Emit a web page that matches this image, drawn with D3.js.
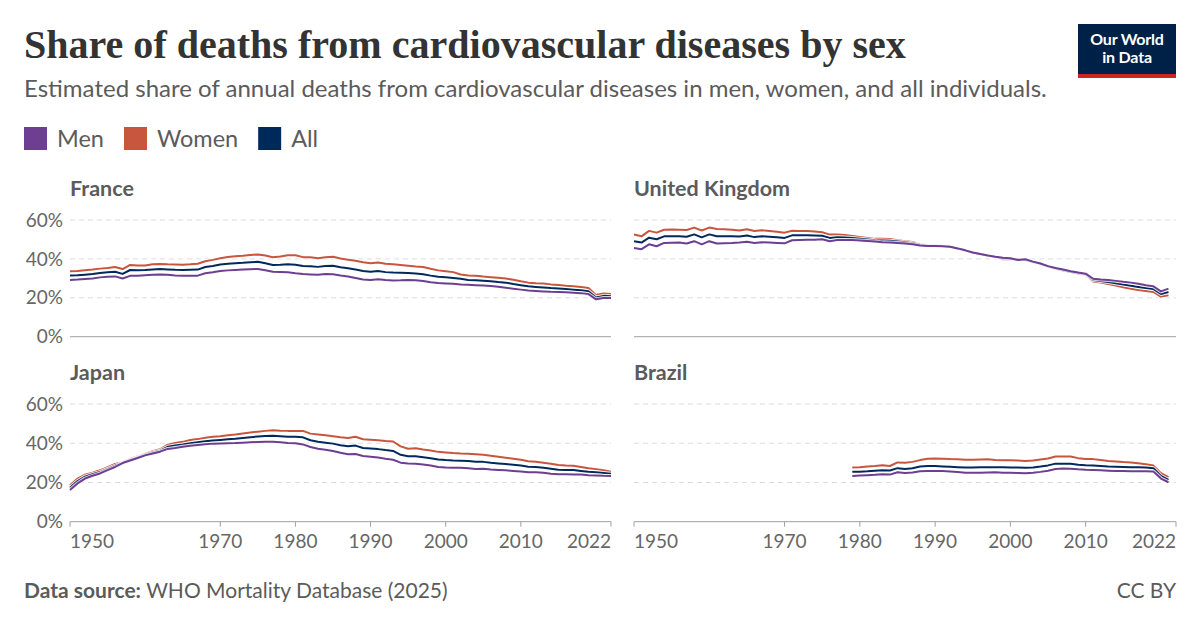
<!DOCTYPE html>
<html>
<head>
<meta charset="utf-8">
<style>
  body { margin: 0; background: #fff; }
  svg text { font-family: Lato, "Noto Sans", sans-serif; }
</style>
<script src="https://d3js.org/d3.v7.min.js"></script>
</head>
<body>
<svg id="chart" width="1200" height="627"></svg>
<script>
// ---- data (shares of deaths, %) ----
var countries = ["France", "United Kingdom", "Japan", "Brazil"];
var seriesNames = ["Men", "Women", "All"];
var seriesColors = ["#6d3e91", "#c8553d", "#00295b"];
var yTicks = [0, 20, 40, 60];
var xTicks = [1950, 1970, 1980, 1990, 2000, 2010, 2022];

var startYears = [1950, 1950, 1950, 1979];

var franceMen = [29.2,29.4,29.7,29.9,30.5,30.8,31.0,29.9,31.3,31.4,31.6,31.8,32.0,31.8,31.5,31.4,31.3,31.4,32.6,33.1,
  33.8,34.1,34.3,34.5,34.7,34.8,34.2,33.4,33.3,33.1,32.6,32.2,32.0,31.8,32.2,32.1,31.5,31.0,30.2,29.4,
  29.2,29.5,29.1,28.9,29.0,29.2,29.0,28.6,28.0,27.6,27.4,27.2,26.9,26.7,26.5,26.3,26.1,25.7,25.2,24.7,
  24.2,23.7,23.5,23.3,23.1,23.0,22.8,22.6,22.4,21.9,19.2,19.9,19.9];
var franceWomen = [33.7,33.8,34.2,34.5,35.0,35.3,35.8,34.8,36.9,36.6,36.6,37.3,37.4,37.2,37.1,37.0,37.2,37.5,38.8,39.5,
  40.3,41.0,41.4,41.6,42.0,42.3,41.7,40.9,41.2,41.9,41.9,40.9,40.8,40.3,40.8,41.1,40.2,39.6,39.0,38.3,
  37.8,38.2,37.5,37.2,36.9,36.5,36.1,35.8,34.9,34.1,33.7,33.2,32.0,31.5,31.3,30.9,30.6,30.3,29.9,29.3,
  28.5,27.8,27.5,27.3,26.9,26.6,26.2,25.9,25.6,25.0,21.4,22.2,21.9];
var franceAll = [31.5,31.6,31.9,32.2,32.8,33.1,33.4,32.3,34.3,34.2,34.3,34.6,34.8,34.6,34.4,34.3,34.4,34.5,35.8,36.4,
  37.1,37.5,37.8,38.0,38.3,38.5,37.8,36.9,37.0,37.3,37.0,36.4,36.2,35.9,36.4,36.5,35.7,35.2,34.5,33.8,
  33.4,33.8,33.2,33.0,32.9,32.8,32.5,32.1,31.4,30.8,30.6,30.2,29.8,29.2,29.0,28.8,28.5,28.1,27.8,27.1,
  26.5,25.9,25.6,25.3,25.0,24.8,24.5,24.2,23.9,23.4,20.2,21.0,20.8];

var ukMen = [45.6,45.0,47.5,46.5,48.2,48.3,48.4,47.9,49.1,47.5,49.1,47.9,48.1,48.2,48.4,48.8,48.2,48.5,48.4,48.2,
  48.0,49.6,49.7,49.8,49.9,50.1,49.1,49.7,49.7,49.7,49.5,49.2,48.9,48.5,48.4,48.2,47.9,47.5,46.9,46.6,
  46.6,46.5,46.2,45.4,44.4,43.3,42.5,41.7,41.1,40.6,40.3,39.4,39.8,38.6,37.6,36.3,35.3,34.5,33.7,33.0,
  32.4,29.8,29.4,29.1,28.7,28.2,27.8,27.2,26.4,25.9,23.3,24.7];
var ukWomen = [52.5,51.6,54.4,53.5,55.0,55.1,55.0,54.9,56.1,54.6,56.1,55.4,55.3,55.0,54.6,55.2,54.3,54.7,54.4,54.0,
  53.5,54.5,54.4,54.4,54.1,53.7,52.5,52.6,52.3,51.8,51.3,50.8,50.3,50.4,50.2,49.6,49.1,48.7,47.6,47.0,
  46.9,46.7,46.2,45.2,44.3,43.2,42.5,41.6,40.9,39.8,39.5,40.1,39.3,38.3,37.4,35.9,34.8,34.0,33.1,32.3,
  31.8,28.4,27.8,27.1,26.3,25.4,24.6,24.0,23.5,23.0,20.6,21.3];
var ukAll = [49.1,48.4,50.9,50.1,51.6,51.7,51.6,51.4,52.6,51.1,52.6,51.6,51.6,51.6,51.5,52.0,51.2,51.6,51.4,51.1,
  50.8,52.1,52.1,52.1,52.0,51.9,50.8,51.1,51.0,50.7,50.4,50.0,49.6,49.5,49.3,48.9,48.5,48.1,47.3,46.8,
  46.7,46.6,46.2,45.3,44.4,43.3,42.5,41.7,41.0,40.2,39.9,39.8,39.5,38.4,37.5,36.1,35.0,34.2,33.4,32.6,
  32.1,29.1,28.6,28.1,27.5,26.8,26.2,25.6,25.0,24.5,22.0,23.0];

var japanMen = [16.1,19.5,22.0,23.4,24.6,26.3,27.9,29.9,31.2,32.5,33.8,34.8,35.7,37.1,37.6,38.2,38.7,39.1,39.5,39.8,
  39.9,40.0,40.1,40.3,40.5,40.6,40.7,40.7,40.5,40.1,40.0,39.4,38.1,37.2,36.7,36.0,35.1,34.4,34.5,33.5,
  33.1,32.7,32.1,31.6,30.1,29.7,29.6,29.1,28.6,27.9,27.6,27.5,27.5,27.2,26.9,27.0,26.6,26.4,26.2,25.9,
  25.6,25.2,25.2,24.9,24.5,24.2,24.2,24.1,24.0,23.7,23.6,23.4,23.3];
var japanWomen = [18.6,22.0,24.0,25.0,26.2,27.8,29.4,30.3,32.0,33.2,34.6,35.9,36.9,39.3,40.1,40.7,41.6,42.1,42.8,43.3,
  43.6,44.1,44.5,45.0,45.5,45.9,46.3,46.6,46.4,46.3,46.3,46.3,44.9,44.5,44.1,43.6,43.1,42.7,43.3,42.0,
  41.8,41.5,41.1,40.9,38.4,37.2,37.4,36.8,36.3,35.6,35.3,35.0,34.8,34.7,34.4,34.1,33.6,33.1,32.6,32.1,
  31.6,30.8,30.6,30.1,29.5,28.9,28.6,28.5,27.9,27.3,26.8,26.2,25.5];
var japanAll = [17.3,20.7,23.0,24.2,25.3,26.9,28.5,30.1,31.5,32.8,34.1,35.3,36.2,38.2,38.9,39.4,40.0,40.5,41.0,41.4,
  41.7,42.0,42.3,42.7,43.1,43.4,43.7,43.8,43.6,43.3,43.3,43.0,41.5,40.8,40.3,39.8,39.0,38.5,38.8,37.6,
  37.3,37.0,36.5,36.1,34.1,33.4,33.4,32.9,32.4,31.7,31.4,31.2,31.1,30.9,30.6,30.5,30.0,29.7,29.4,29.0,
  28.6,28.0,27.9,27.5,27.0,26.5,26.4,26.3,25.9,25.5,25.2,24.8,24.4];

var brazilMen = [23.3,23.5,23.7,23.9,24.2,24.0,25.2,24.8,25.1,25.7,25.9,25.9,25.8,25.6,25.3,25.0,24.9,25.0,25.1,25.2,
  25.0,24.9,24.8,24.7,25.0,25.4,26.0,26.9,27.1,27.0,26.7,26.5,26.4,26.2,26.0,25.8,25.8,25.7,25.7,25.7,
  25.6,22.0,20.1];
var brazilWomen = [27.6,27.8,28.1,28.4,28.8,28.4,30.2,30.0,30.5,31.4,32.1,32.2,32.1,31.9,31.8,31.6,31.6,31.7,31.8,31.4,
  31.3,31.3,31.2,31.0,31.2,31.7,32.2,33.2,33.2,33.2,32.4,32.0,31.9,31.5,31.0,30.7,30.4,30.2,29.8,29.3,
  28.6,24.7,22.7];
var brazilAll = [25.4,25.5,25.7,26.0,26.2,26.1,27.3,26.9,27.3,28.1,28.4,28.4,28.2,28.0,27.8,27.6,27.6,27.7,27.8,27.8,
  27.7,27.6,27.6,27.5,27.6,28.1,28.7,29.6,29.6,29.5,29.0,28.8,28.7,28.4,28.1,28.0,27.9,27.8,27.7,27.6,
  27.3,23.3,21.3];

var countryData = [
  [franceMen, franceWomen, franceAll],
  [ukMen, ukWomen, ukAll],
  [japanMen, japanWomen, japanAll],
  [brazilMen, brazilWomen, brazilAll]
];

// ---- layout ----
var svg = d3.select("#chart");
var textGray = "#5b5b5b";
var colX = [[70, 611], [634, 1176]];
var rowY = [[336.7, 220], [521.7, 404]];

// fit a text element's font size so it spans a given width
function fitWidth(sel, size, width) {
  var w = sel.node().getComputedTextLength();
  sel.style("font-size", (size * width / w) + "px");
}

var title = svg.append("text")
  .attr("x", 24).attr("y", 58)
  .style("font-family", "'Liberation Serif', 'DejaVu Serif', serif")
  .style("font-weight", "bold")
  .style("font-size", "38px")
  .attr("fill", "#333")
  .text("Share of deaths from cardiovascular diseases by sex");
fitWidth(title, 38, 882);

var sub = svg.append("text")
  .attr("x", 24).attr("y", 97)
  .style("font-size", "20px")
  .attr("fill", textGray)
  .text("Estimated share of annual deaths from cardiovascular diseases in men, women, and all individuals.");
fitWidth(sub, 20, 1023);

// logo
svg.append("rect").attr("x", 1078).attr("y", 24).attr("width", 98).attr("height", 54).attr("fill", "#002147");
svg.append("rect").attr("x", 1078).attr("y", 74).attr("width", 98).attr("height", 4).attr("fill", "#ce261e");
svg.selectAll(".logo").data(["Our World", "in Data"]).enter().append("text")
  .attr("class", "logo")
  .attr("x", 1127).attr("y", function(d, i) { return 45 + i * 18; })
  .attr("text-anchor", "middle")
  .style("font-size", "16px").style("font-weight", "bold").style("letter-spacing", "-0.2px")
  .attr("fill", "#fff")
  .text(function(d) { return d; });

// legend
var lx = 24;
seriesNames.forEach(function(name, i) {
  svg.append("rect").attr("x", lx).attr("y", 127).attr("width", 23).attr("height", 23)
    .attr("fill", seriesColors[i]);
  var t = svg.append("text").attr("x", lx + 33).attr("y", 147)
    .style("font-size", "23.5px").attr("fill", textGray).text(name);
  lx += 33 + t.node().getComputedTextLength() + 20;
});

// panels
var drawOrder = [1, 2, 0]; // women, all, men on top

countries.forEach(function(country, ci) {
  var col = ci % 2, row = Math.floor(ci / 2);
  var x = d3.scaleLinear().domain([1950, 2022]).range(colX[col]);
  var y = d3.scaleLinear().domain([0, 60]).range(rowY[row]);
  var g = svg.append("g");

  g.append("text")
    .attr("x", colX[col][0]).attr("y", rowY[row][1] - 24)
    .style("font-size", "21.5px").style("font-weight", "bold")
    .attr("fill", textGray).text(country);

  // grid
  g.selectAll(".grid").data(yTicks.filter(function(d) { return d > 0; })).enter().append("line")
    .attr("x1", colX[col][0]).attr("x2", colX[col][1])
    .attr("y1", function(d) { return y(d); }).attr("y2", function(d) { return y(d); })
    .attr("stroke", "#dddddd").attr("stroke-width", 1).attr("stroke-dasharray", "5,4");

  if (col === 0) {
    g.selectAll(".ylab").data(yTicks).enter().append("text")
      .attr("x", 63).attr("y", function(d) { return y(d); }).attr("dy", "0.35em")
      .attr("text-anchor", "end")
      .style("font-size", "19px").attr("fill", "#666")
      .text(function(d) { return d + "%"; });
  }

  // baseline
  g.append("line")
    .attr("x1", colX[col][0]).attr("x2", colX[col][1])
    .attr("y1", y(0)).attr("y2", y(0))
    .attr("stroke", "#a0a0a0").attr("stroke-width", 1);

  if (row === 1) {
    g.selectAll(".tick").data(xTicks).enter().append("line")
      .attr("x1", function(d) { return x(d); }).attr("x2", function(d) { return x(d); })
      .attr("y1", y(0)).attr("y2", y(0) + 5)
      .attr("stroke", "#a0a0a0");
    g.selectAll(".xlab").data(xTicks).enter().append("text")
      .attr("x", function(d) { return x(d); }).attr("y", 548)
      .attr("text-anchor", function(d, i) { return i === 0 ? "start" : (i === xTicks.length - 1 ? "end" : "middle"); })
      .style("font-size", "19px").attr("fill", "#666")
      .text(function(d) { return d; });
  }

  var line = d3.line()
    .x(function(d, i) { return x(startYears[ci] + i); })
    .y(function(d) { return y(d); });

  drawOrder.forEach(function(si) {
    var vals = countryData[ci][si];
    g.append("path").attr("d", line(vals)).attr("fill", "none")
      .attr("stroke", "#fff").attr("stroke-width", 4).attr("stroke-linejoin", "round").attr("opacity", 0.8);
    g.append("path").attr("d", line(vals)).attr("fill", "none")
      .attr("stroke", seriesColors[si]).attr("stroke-width", 2).attr("stroke-linejoin", "round");
  });
});

// footer
var foot = svg.append("text").attr("x", 24).attr("y", 598).style("font-size", "21px").attr("fill", textGray);
foot.append("tspan").style("font-weight", "bold").text("Data source: ");
foot.append("tspan").text("WHO Mortality Database (2025)");
svg.append("text").attr("x", 1176).attr("y", 598).attr("text-anchor", "end")
  .style("font-size", "21px").attr("fill", textGray).text("CC BY");
</script>
</body>
</html>
